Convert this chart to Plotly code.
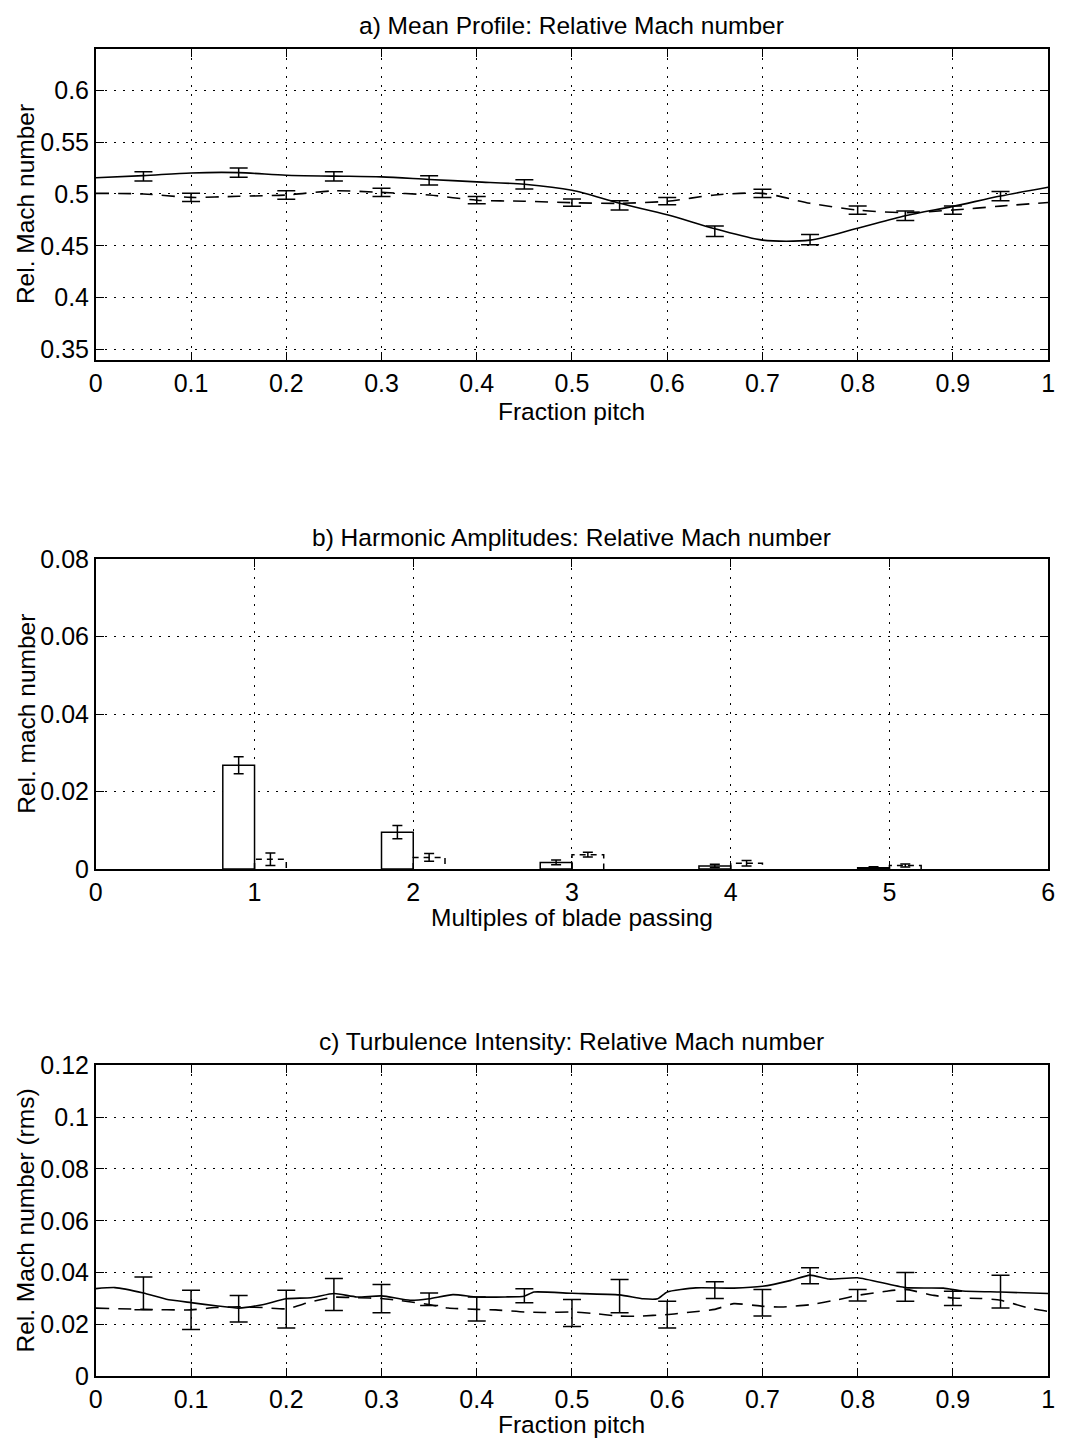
import plotly.graph_objects as go

# ---------------- Panel a: mean profile ----------------
a_x = [0, 0.05, 0.1, 0.15, 0.2, 0.25, 0.3, 0.35, 0.4, 0.45, 0.5, 0.55, 0.6, 0.65, 0.7, 0.75, 0.8, 0.85, 0.9, 0.95, 1.0]
a_solid = [0.5157, 0.5177, 0.5203, 0.5206, 0.5180, 0.5172, 0.5165, 0.5140, 0.5117, 0.5093, 0.5035, 0.4910, 0.4800, 0.4665, 0.4555, 0.4555, 0.4670, 0.4790, 0.4880, 0.4980, 0.5065]
a_dashed = [0.5006, 0.5000, 0.4967, 0.4978, 0.4990, 0.5030, 0.5015, 0.4990, 0.4940, 0.4930, 0.4916, 0.4910, 0.4930, 0.4990, 0.5006, 0.4910, 0.4845, 0.4820, 0.4845, 0.4883, 0.4918]
a_eb_solid_x = [0.05, 0.15, 0.25, 0.35, 0.45, 0.55, 0.65, 0.75, 0.85, 0.95]
a_eb_solid_c = [0.5170, 0.5206, 0.5170, 0.5131, 0.5093, 0.4890, 0.4640, 0.4560, 0.4790, 0.4980]
a_eb_solid_e = [0.0045, 0.0045, 0.0045, 0.0045, 0.0045, 0.0045, 0.0050, 0.0050, 0.0045, 0.0045]
a_eb_dash_x = [0.1, 0.2, 0.3, 0.4, 0.5, 0.6, 0.7, 0.8, 0.9]
a_eb_dash_c = [0.4967, 0.4990, 0.5015, 0.4940, 0.4916, 0.4930, 0.5006, 0.4845, 0.4845]
a_eb_dash_e = [0.0040, 0.0040, 0.0040, 0.0035, 0.0035, 0.0035, 0.0040, 0.0040, 0.0040]

# ---------------- Panel b: harmonic amplitudes ----------------
b_harm = [1, 2, 3, 4, 5]
b_s1 = [0.0268, 0.0095, 0.0017, 0.0008, 0.0003]
b_s1_err = [0.0022, 0.0017, 0.0006, 0.0004, 0.0003]
b_s2 = [0.0025, 0.0030, 0.0037, 0.0015, 0.0009]
b_s2_err = [0.0016, 0.0010, 0.0006, 0.0007, 0.0004]

# ---------------- Panel c: turbulence intensity ----------------
c_solid_x = [0, 0.02, 0.05, 0.074, 0.1, 0.128, 0.15, 0.175, 0.2, 0.226, 0.25, 0.274, 0.3, 0.33, 0.35, 0.375, 0.4, 0.43, 0.45, 0.46, 0.5, 0.55, 0.575, 0.59, 0.6, 0.63, 0.67, 0.7, 0.73, 0.75, 0.77, 0.8, 0.85, 0.89, 0.91, 0.95, 1.0]
c_solid = [0.0338, 0.0342, 0.0321, 0.0297, 0.0284, 0.0271, 0.0263, 0.0276, 0.0299, 0.0303, 0.0319, 0.0306, 0.0310, 0.0293, 0.0299, 0.0315, 0.0306, 0.0306, 0.0309, 0.0325, 0.0320, 0.0314, 0.0299, 0.0299, 0.0325, 0.0341, 0.0340, 0.0347, 0.0370, 0.0390, 0.0375, 0.0380, 0.0342, 0.0340, 0.0329, 0.0325, 0.0319]
c_dash_x = [0, 0.05, 0.1, 0.125, 0.15, 0.175, 0.2, 0.226, 0.25, 0.275, 0.3, 0.32, 0.35, 0.37, 0.4, 0.42, 0.45, 0.47, 0.5, 0.52, 0.55, 0.57, 0.6, 0.626, 0.65, 0.67, 0.7, 0.72, 0.75, 0.78, 0.8, 0.83, 0.85, 0.88, 0.9, 0.93, 0.95, 0.98, 1.0]
c_dash = [0.0263, 0.0258, 0.0256, 0.0265, 0.0268, 0.0265, 0.0260, 0.0287, 0.0305, 0.0303, 0.0300, 0.0292, 0.0277, 0.0263, 0.0258, 0.0256, 0.0248, 0.0246, 0.0248, 0.0243, 0.0232, 0.0232, 0.0238, 0.0248, 0.0258, 0.0280, 0.0270, 0.0267, 0.0276, 0.0296, 0.0312, 0.0328, 0.0335, 0.0312, 0.0302, 0.0300, 0.0293, 0.0263, 0.0250]
c_eb_solid_x = [0.05, 0.15, 0.25, 0.35, 0.45, 0.55, 0.65, 0.75, 0.85, 0.95]
c_eb_solid_lo = [0.0257, 0.0209, 0.0254, 0.0273, 0.0284, 0.0245, 0.0300, 0.0357, 0.0289, 0.0263]
c_eb_solid_hi = [0.0383, 0.0312, 0.0377, 0.0321, 0.0338, 0.0373, 0.0365, 0.0419, 0.0400, 0.0390]
c_eb_dash_x = [0.1, 0.2, 0.3, 0.4, 0.5, 0.6, 0.7, 0.8, 0.9]
c_eb_dash_lo = [0.0180, 0.0186, 0.0245, 0.0213, 0.0192, 0.0186, 0.0232, 0.0290, 0.0273]
c_eb_dash_hi = [0.0332, 0.0332, 0.0354, 0.0306, 0.0296, 0.0289, 0.0335, 0.0335, 0.0328]

# tick labels
frac_ticks = [i / 10 for i in range(11)]
frac_labels = ["0", "0.1", "0.2", "0.3", "0.4", "0.5", "0.6", "0.7", "0.8", "0.9", "1"]
a_yticks = [0.35, 0.4, 0.45, 0.5, 0.55, 0.6]
a_ylabels = ["0.35", "0.4", "0.45", "0.5", "0.55", "0.6"]
b_xticks = [0, 1, 2, 3, 4, 5, 6]
b_yticks = [0, 0.02, 0.04, 0.06, 0.08]
b_ylabels = ["0", "0.02", "0.04", "0.06", "0.08"]
c_yticks = [0, 0.02, 0.04, 0.06, 0.08, 0.1, 0.12]
c_ylabels = ["0", "0.02", "0.04", "0.06", "0.08", "0.1", "0.12"]

W, H = 1065, 1440
FONT = "Liberation Sans, Arial, Helvetica, sans-serif"
BLACK = "black"
DASH = "13px,9px"


def PY(y):
    return (y - 10.0) / 0.984


fig = go.Figure()


def eb_trace(x, c, e, xa, ya, cap=8):
    return go.Scatter(
        x=x, y=c, mode="markers", xaxis=xa, yaxis=ya,
        marker=dict(size=1, color="rgba(0,0,0,0)"),
        error_y=dict(type="data", array=e, color=BLACK, thickness=1.5, width=cap),
        showlegend=False, hoverinfo="skip")


# Panel a
fig.add_trace(go.Scatter(x=a_x, y=a_solid, mode="lines", line=dict(color=BLACK, width=1.6, shape="spline", smoothing=0.8),
                         xaxis="x", yaxis="y", showlegend=False))
fig.add_trace(go.Scatter(x=a_x, y=a_dashed, mode="lines", line=dict(color=BLACK, width=1.6, dash=DASH, shape="spline", smoothing=0.8),
                         xaxis="x", yaxis="y", showlegend=False))
fig.add_trace(eb_trace(a_eb_solid_x, a_eb_solid_c, a_eb_solid_e, "x", "y", cap=9))
fig.add_trace(eb_trace(a_eb_dash_x, a_eb_dash_c, a_eb_dash_e, "x", "y", cap=9))

# Panel b
BW = 0.2
s1_x = [h - BW / 2 for h in b_harm]
s2_x = [h + BW / 2 for h in b_harm]
fig.add_trace(go.Bar(x=s1_x, y=b_s1, width=BW, marker=dict(color="white", line=dict(color=BLACK, width=1.5)),
                     xaxis="x2", yaxis="y2", showlegend=False))
ox, oy = [], []
for xc, v in zip(s2_x, b_s2):
    l, r = xc - BW / 2, xc + BW / 2
    ox += [l, l, r, r, None]
    oy += [0, v, v, 0, None]
fig.add_trace(go.Scatter(x=ox, y=oy, mode="lines", line=dict(color=BLACK, width=1.5, dash="6px,5px"),
                         xaxis="x2", yaxis="y2", showlegend=False, hoverinfo="skip"))
fig.add_trace(eb_trace(s1_x, b_s1, b_s1_err, "x2", "y2", cap=5))
fig.add_trace(eb_trace(s2_x, b_s2, b_s2_err, "x2", "y2", cap=5))

# Panel c
fig.add_trace(go.Scatter(x=c_solid_x, y=c_solid, mode="lines", line=dict(color=BLACK, width=1.6, shape="spline", smoothing=0.5),
                         xaxis="x3", yaxis="y3", showlegend=False))
fig.add_trace(go.Scatter(x=c_dash_x, y=c_dash, mode="lines", line=dict(color=BLACK, width=1.6, dash=DASH, shape="spline", smoothing=0.5),
                         xaxis="x3", yaxis="y3", showlegend=False))
c_s_c = [(lo + hi) / 2 for lo, hi in zip(c_eb_solid_lo, c_eb_solid_hi)]
c_s_e = [(hi - lo) / 2 for lo, hi in zip(c_eb_solid_lo, c_eb_solid_hi)]
c_d_c = [(lo + hi) / 2 for lo, hi in zip(c_eb_dash_lo, c_eb_dash_hi)]
c_d_e = [(hi - lo) / 2 for lo, hi in zip(c_eb_dash_lo, c_eb_dash_hi)]
fig.add_trace(eb_trace(c_eb_solid_x, c_s_c, c_s_e, "x3", "y3", cap=9))
fig.add_trace(eb_trace(c_eb_dash_x, c_d_c, c_d_e, "x3", "y3", cap=9))

# geometry
L, R = 90, 1055
panels = {"a": (45, 357), "b": (557, 868), "c": (1065, 1377)}


def ydom(top, bot):
    return [1 - PY(bot) / H, 1 - PY(top) / H]


xdom = [L / W, R / W]

axis_common = dict(showline=True, linecolor=BLACK, linewidth=1.6, mirror="ticks", ticks="inside",
                   ticklen=8, tickwidth=1.3, tickcolor=BLACK, showgrid=True, gridcolor=BLACK,
                   griddash="2px,7px", gridwidth=1.2, zeroline=False, ticklabeloverflow="allow",
                   tickfont=dict(family=FONT, size=25, color=BLACK))

fig.update_layout(
    width=W, height=H, margin=dict(l=0, r=0, t=0, b=0),
    paper_bgcolor="white", plot_bgcolor="white", barmode="overlay",
    xaxis=dict(domain=xdom, range=[0, 1], tickvals=frac_ticks, ticktext=frac_labels, anchor="y", **axis_common),
    yaxis=dict(domain=ydom(*panels["a"]), range=[0.34, 0.64], tickvals=a_yticks, ticktext=a_ylabels, anchor="x", **axis_common),
    xaxis2=dict(domain=xdom, range=[0, 6], tickvals=b_xticks, ticktext=[str(v) for v in b_xticks], anchor="y2", **axis_common),
    yaxis2=dict(domain=ydom(*panels["b"]), range=[0, 0.08], tickvals=b_yticks, ticktext=b_ylabels, anchor="x2", **axis_common),
    xaxis3=dict(domain=xdom, range=[0, 1], tickvals=frac_ticks, ticktext=frac_labels, anchor="y3", **axis_common),
    yaxis3=dict(domain=ydom(*panels["c"]), range=[0, 0.12], tickvals=c_yticks, ticktext=c_ylabels, anchor="x3", **axis_common),
)

XC = 0.5 * (L + R) / W
texts = [
    ("a) Mean Profile: Relative Mach number", 22),
    ("Fraction pitch", 409),
    ("b) Harmonic Amplitudes: Relative Mach number", 535),
    ("Multiples of blade passing", 917),
    ("c) Turbulence Intensity: Relative Mach number", 1041),
    ("Fraction pitch", 1425),
]
for t, yp in texts:
    fig.add_annotation(text=t, x=XC, y=1 - PY(yp) / H, xref="paper", yref="paper", showarrow=False,
                       xanchor="center", yanchor="middle", font=dict(family=FONT, size=24.5, color=BLACK))

ylabels = [("Rel. Mach number", panels["a"]), ("Rel. mach number", panels["b"]), ("Rel. Mach number (rms)", panels["c"])]
for t, (top, bot) in ylabels:
    fig.add_annotation(text=t, x=19 / W, y=1 - PY((top + bot) / 2) / H, xref="paper", yref="paper", showarrow=False,
                       textangle=-90, xanchor="center", yanchor="middle", font=dict(family=FONT, size=24.5, color=BLACK))

fig.write_html("out.html")
